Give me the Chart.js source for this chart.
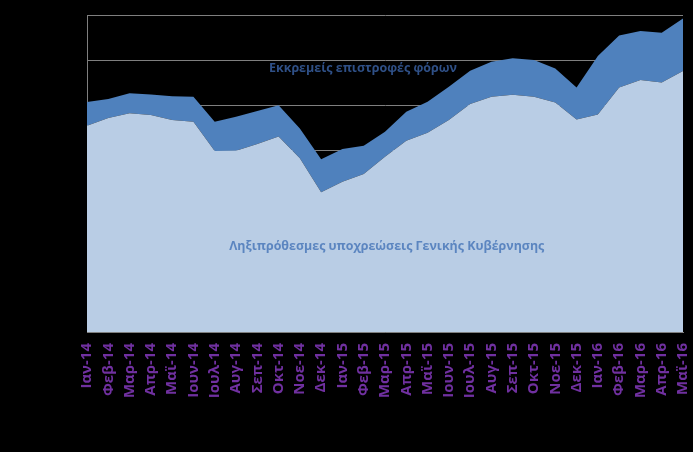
<!DOCTYPE html>
<html>
<head>
<meta charset="utf-8">
<script src="https://cdn.jsdelivr.net/npm/chart.js@4.4.1/dist/chart.umd.min.js"></script>
<style>
html,body{margin:0;padding:0;background:#000;}
#wrap{width:693px;height:452px;position:relative;}
</style>
</head>
<body>
<div id="wrap"><canvas id="c" width="693" height="452"></canvas></div>
<script>
const categories = ["Ιαν-14","Φεβ-14","Μαρ-14","Απρ-14","Μαϊ-14","Ιουν-14","Ιουλ-14","Αυγ-14","Σεπ-14","Οκτ-14","Νοε-14","Δεκ-14",
  "Ιαν-15","Φεβ-15","Μαρ-15","Απρ-15","Μαϊ-15","Ιουν-15","Ιουλ-15","Αυγ-15","Σεπ-15","Οκτ-15","Νοε-15","Δεκ-15",
  "Ιαν-16","Φεβ-16","Μαρ-16","Απρ-16","Μαϊ-16"];
const arrears = [4555,4725,4830,4790,4680,4645,3995,4005,4150,4315,3835,3085,
  3320,3490,3870,4225,4400,4680,5035,5195,5240,5195,5070,4695,
  4805,5400,5565,5510,5765];
const taxRefunds = [525,420,440,455,525,550,650,750,730,690,660,730,
  720,625,550,640,685,735,735,775,805,810,750,705,
  1290,1150,1080,1100,1160];
const yTicks = [0,1000,2000,3000,4000,5000,6000,7000];
const seriesNames = ["Ληξιπρόθεσμες υποχρεώσεις Γενικής Κυβέρνησης","Εκκρεμείς επιστροφές φόρων"];

const labelPlugin = {
  id: 'areaLabels',
  afterDatasetsDraw(chart) {
    const ctx = chart.ctx;
    const xs = chart.scales.x, ys = chart.scales.y;
    function drawFit(text, cx, cy, width, color) {
      ctx.save();
      ctx.font = 'bold 13px "Open Sans"';
      const w = ctx.measureText(text).width;
      const sx = width / w;
      ctx.translate(cx, cy);
      ctx.scale(sx, 1);
      ctx.fillStyle = color;
      ctx.textAlign = 'center';
      ctx.textBaseline = 'middle';
      ctx.fillText(text, 0, 0);
      ctx.restore();
    }
    const left = xs.left, right = xs.right;
    const cx1 = left + (right - left) * 0.463;
    drawFit(seriesNames[1], cx1, ys.getPixelForValue(5830), 188, '#2F5087');
    const cx2 = left + (right - left) * 0.503;
    drawFit(seriesNames[0], cx2, ys.getPixelForValue(1895), 315, '#5B85C0');
  }
};

new Chart(document.getElementById('c'), {
  type: 'line',
  data: {
    labels: categories,
    datasets: [
      { label: seriesNames[0], data: arrears, fill: 'origin', backgroundColor: '#B9CDE5', borderWidth: 0, pointRadius: 0, tension: 0 },
      { label: seriesNames[1], data: taxRefunds, fill: '-1', backgroundColor: '#4F81BD', borderWidth: 0, pointRadius: 0, tension: 0 }
    ]
  },
  options: {
    responsive: false,
    animation: false,
    devicePixelRatio: 1,
    layout: { padding: { left: 0, right: 10, top: 15, bottom: 0 } },
    plugins: { legend: { display: false }, tooltip: { enabled: false } },
    scales: {
      x: {
        offset: false,
        grid: { display: false, drawTicks: false },
        border: { display: true, color: '#7F7F7F', width: 1 },
        ticks: {
          color: '#7030A0',
          font: { family: '"Open Sans"', size: 15, weight: 'bold' },
          minRotation: 90, maxRotation: 90, autoSkip: false, padding: 11
        },
        afterFit(scale) { scale.height = 120; scale.paddingLeft = 0; scale.paddingRight = 0; }
      },
      y: {
        stacked: true,
        min: 0, max: 7000,
        afterBuildTicks(scale) { scale.ticks = yTicks.map(v => ({ value: v })); },
        grid: { color: '#7F7F7F', lineWidth: 1, drawTicks: false },
        border: { display: true, color: '#7F7F7F', width: 1 },
        ticks: { display: false },
        afterFit(scale) { scale.width = 87; scale.paddingTop = 0; scale.paddingBottom = 0; }
      }
    }
  },
  plugins: [labelPlugin]
});
</script>
</body>
</html>
